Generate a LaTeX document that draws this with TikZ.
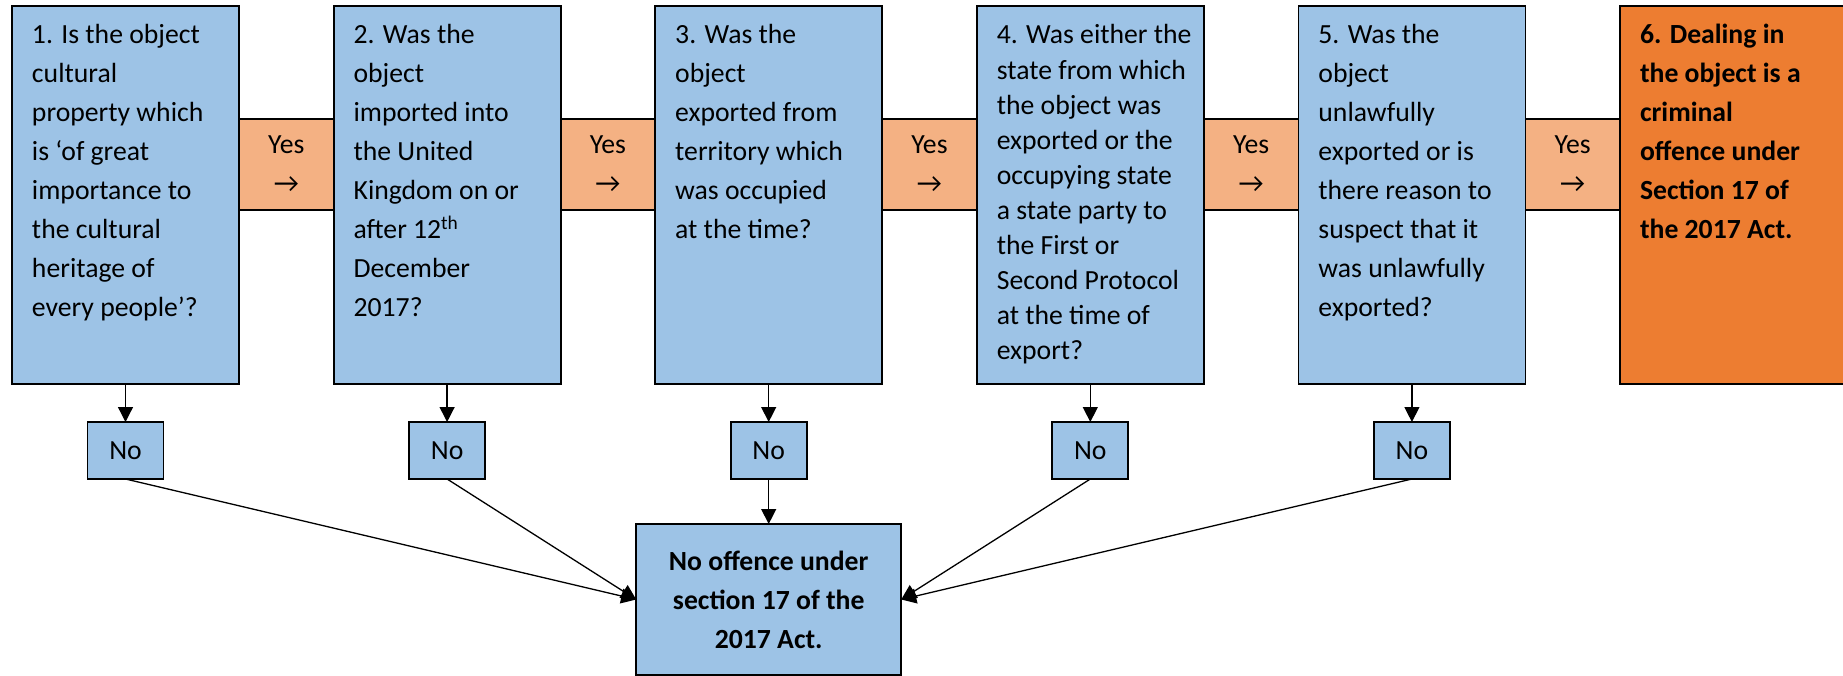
\documentclass[tikz,border=0pt]{standalone}
\usepackage{fontspec}
\setmainfont{Carlito}
\usetikzlibrary{positioning,arrows.meta}

\definecolor{qblue}{HTML}{9DC3E6}
\definecolor{yesorange}{HTML}{F4B183}
\definecolor{offorange}{HTML}{ED7D31}

\newcommand{\qtext}[2][38.9pt]{%
	\parbox[t][356.4pt][t]{227pt}{\fontsize{27.7pt}{#1}\selectfont
		\raggedright\leftskip=20pt\rule{0pt}{27.2pt}#2}}

\begin{document}
\begin{tikzpicture}[
			>={Triangle[width=15pt,length=15pt]},
			x=1pt, y=-1pt,
			every node/.style={
				draw,
				line width=1.8pt,
				outer sep=0pt,
				font=\fontsize{27.7pt}{38.9pt}\selectfont
			},
			qbox/.style={fill=qblue, minimum width=227pt, minimum height=378pt,
				inner xsep=0pt, inner ysep=10.8pt},
			offbox/.style={qbox, fill=offorange,
				font=\fontsize{27.7pt}{38.9pt}\selectfont\bfseries},
			yesbox/.style={fill=yesorange, minimum width=94.6pt, minimum height=91pt,
				inner sep=0pt, align=center},
			nobox/.style={fill=qblue, minimum width=76pt, minimum height=57pt, inner sep=0pt},
			endbox/.style={fill=qblue, minimum width=265pt, minimum height=151pt,
				inner sep=0pt, align=center,
				font=\fontsize{27.7pt}{38.9pt}\selectfont\bfseries},
			flow/.style={->, line width=1.3pt}
			]
			
			\useasboundingbox (0,0) rectangle (1843,676);
			
			%--------------------------------------------------
			% Questions
			%--------------------------------------------------
			
			\node[qbox, anchor=north west] (q1) at (12,6)
			{\qtext{1. Is the object\\cultural\\property which\\is ‘of great\\importance to\\the cultural\\heritage of\\every people’?}};
			
			\node[qbox, right=94.6pt of q1] (q2)
			{\qtext{2. Was the\\object\\imported into\\the United\\Kingdom on or\\after 12\textsuperscript{th}\\December\\2017?}};
			
			\node[qbox, right=94.6pt of q2] (q3)
			{\qtext{3. Was the\\object\\exported from\\territory which\\was occupied\\at the time?}};
			
			\node[qbox, right=94.6pt of q3] (q4)
			{\qtext[35.1pt]{4. Was either the\\state from which\\the object was\\exported or the\\occupying state\\a state party to\\the First or\\Second Protocol\\at the time of\\export?}};
			
			\node[qbox, right=94.6pt of q4] (q5)
			{\qtext{5. Was the\\object\\unlawfully\\exported or is\\there reason to\\suspect that it\\was unlawfully\\exported?}};
			
			\node[offbox, right=94.6pt of q5] (q6)
			{\qtext{6. Dealing in\\the object is a\\criminal\\offence under\\Section 17 of\\the 2017 Act.}};
			
			%--------------------------------------------------
			% Yes links
			%--------------------------------------------------
			
			\node[yesbox, below right=113pt and 0pt of q1.north east] (y1) {Yes\\→};
			\node[yesbox, below right=113pt and 0pt of q2.north east] (y2) {Yes\\→};
			\node[yesbox, below right=113pt and 0pt of q3.north east] (y3) {Yes\\→};
			\node[yesbox, below right=113pt and 0pt of q4.north east] (y4) {Yes\\→};
			\node[yesbox, below right=113pt and 0pt of q5.north east] (y5) {Yes\\→};
			
			%--------------------------------------------------
			% No row
			%--------------------------------------------------
			
			\node[nobox, below=38pt of q1] (n1) {No};
			\node[nobox, below=38pt of q2] (n2) {No};
			\node[nobox, below=38pt of q3] (n3) {No};
			\node[nobox, below=38pt of q4] (n4) {No};
			\node[nobox, below=38pt of q5] (n5) {No};
			
			\node[endbox, below=45pt of n3] (res) {No offence under\\section 17 of the\\2017 Act.};
			
			%--------------------------------------------------
			% Flow
			%--------------------------------------------------
			
			\draw[flow] (q1) -- (n1);
			\draw[flow] (q2) -- (n2);
			\draw[flow] (q3) -- (n3);
			\draw[flow] (q4) -- (n4);
			\draw[flow] (q5) -- (n5);
			
			\draw[flow] (n1.south) -- (res.west);
			\draw[flow] (n2.south) -- (res.west);
			\draw[flow] (n3) -- (res);
			\draw[flow] (n4.south) -- (res.east);
			\draw[flow] (n5.south) -- (res.east);
			
		\end{tikzpicture}
\end{document}
